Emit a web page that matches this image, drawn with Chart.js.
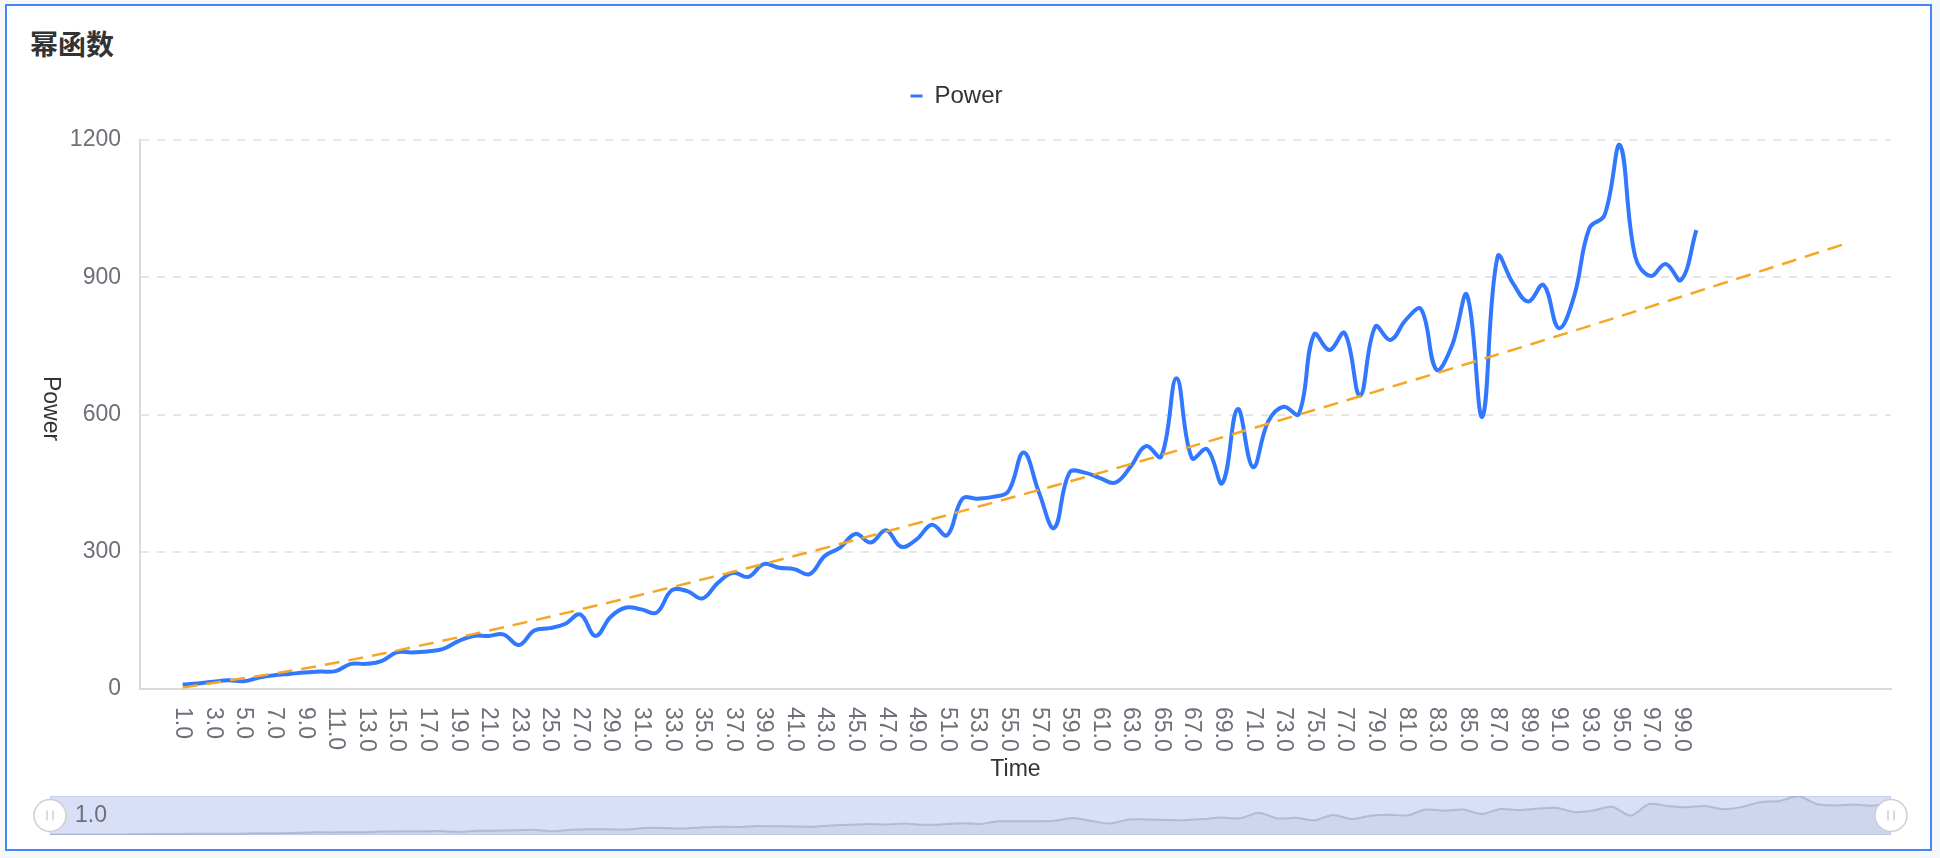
<!DOCTYPE html>
<html>
<head>
<meta charset="utf-8">
<script src="https://cdn.jsdelivr.net/npm/chart.js@4.4.1/dist/chart.umd.min.js"></script>
<style>
  html, body { margin: 0; padding: 0; }
  body { width: 1940px; height: 858px; background: #f6f7f9; position: relative; overflow: hidden; }
  #card { position: absolute; left: 5px; top: 4px; width: 1927px; height: 847px; box-sizing: border-box;
          border: 2px solid #4386f5; background: #fff; }
  #title { position: absolute; left: 30px; top: 27px; line-height: 32px; font-size: 28px; font-weight: bold;
           font-family: 'Noto Sans CJK SC', sans-serif; color: #333; }
  #main { position: absolute; left: 0; top: 0; }
  #zoom { position: absolute; left: 0; top: 790px; }
</style>
</head>
<body>
<div id="card"></div>
<div id="title">幂函数</div>
<canvas id="main" width="1940" height="790"></canvas>
<canvas id="zoom" width="1940" height="62"></canvas>
<script>
// data
const times = [1,2,3,4,5,6,7,8,9,10,11,12,13,14,15,16,17,18,19,20,
  21,22,23,24,25,26,27,28,29,30,31,32,33,34,35,36,37,38,39,40,
  41,42,43,44,45,46,47,48,49,50,51,52,53,54,55,56,57,58,59,60,
  61,62,63,64,65,66,67,68,69,70,71,72,73,74,75,76,77,78,79,80,
  81,82,83,84,85,86,87,88,89,90,91,92,93,94,95,96,97,98,99,100];
const power = [10,12,16,19,17,25,30,33,36,38,
  39,55,55,61,80,80,82,87,104,116,
  116,119,96,128,133,142,163,116,158,178,
  174,167,216,214,198,232,254,245,273,265,
  262,251,291,309,339,320,347,311,327,359,
  336,416,416,420,432,517,430,352,473,473,
  461,451,486,531,508,679,505,524,450,612,
  485,585,617,601,775,741,778,641,792,763,
  807,830,698,749,861,595,945,887,847,883,
  789,858,1007,1036,1189,945,903,929,894,1003];
const trendTimes = [1,10,20,30,40,50,60,70,80,90,100,110];
const trendValues = [3,51,120,198,282,371,463,560,660,762,868,976];
const xTicks = [1,3,5,7,9,11,13,15,17,19,21,23,25,27,29,31,33,35,37,39,
  41,43,45,47,49,51,53,55,57,59,61,63,65,67,69,71,73,75,77,79,
  81,83,85,87,89,91,93,95,97,99];
const yTicks = [0,300,600,900,1200];

const BLUE = '#3178ff';
const ORANGE = '#f5a623';
const FONT = '"Liberation Sans", Arial, sans-serif';

// extra space under the legend
const legendGap = {
  id: 'legendGap',
  beforeInit(chart) {
    const fit = chart.legend.fit;
    chart.legend.fit = function () {
      fit.call(this);
      this.height += 22;
    };
  }
};

// x labels and y name read top to bottom
const axisText = {
  id: 'axisText',
  afterDraw(chart) {
    const ctx = chart.ctx;
    const xs = chart.scales.x;
    const area = chart.chartArea;
    ctx.save();
    ctx.font = '23px ' + FONT;
    ctx.fillStyle = '#6e7079';
    ctx.textAlign = 'left';
    ctx.textBaseline = 'middle';
    xTicks.forEach(t => {
      ctx.save();
      ctx.translate(xs.getPixelForValue(t), area.bottom + 18);
      ctx.rotate(Math.PI / 2);
      ctx.fillText(t.toFixed(1), 0, 0);
      ctx.restore();
    });
    ctx.fillStyle = '#333';
    ctx.textAlign = 'center';
    ctx.translate(50, (area.top + area.bottom) / 2 - 6);
    ctx.rotate(Math.PI / 2);
    ctx.fillText('Power', 0, 0);
    ctx.restore();
  }
};

new Chart(document.getElementById('main'), {
  type: 'line',
  data: {
    datasets: [
      {
        label: 'Power',
        data: times.map((t, i) => ({x: t, y: power[i]})),
        borderColor: BLUE,
        backgroundColor: BLUE,
        borderWidth: 4,
        pointRadius: 0,
        tension: 0.4,
        fill: false,
        order: 1
      },
      {
        label: 'Trend',
        data: trendTimes.map((t, i) => ({x: t, y: trendValues[i]})),
        borderColor: ORANGE,
        borderWidth: 2.5,
        borderDash: [15, 9],
        pointRadius: 0,
        cubicInterpolationMode: 'monotone',
        fill: false,
        order: 0
      }
    ]
  },
  options: {
    responsive: false,
    animation: false,
    devicePixelRatio: 1,
    layout: {padding: {top: 74, left: 22, right: 49, bottom: 7}},
    plugins: {
      legend: {
        position: 'top',
        labels: {
          padding: 10,
          boxWidth: 12,
          boxHeight: 3,
          color: '#333',
          font: {size: 24, family: FONT},
          generateLabels: chart => [{
            text: 'Power',
            fillStyle: BLUE,
            strokeStyle: BLUE,
            lineWidth: 0,
            fontColor: '#333',
            hidden: !chart.isDatasetVisible(0),
            datasetIndex: 0
          }]
        }
      },
      tooltip: {enabled: false}
    },
    scales: {
      x: {
        type: 'linear',
        min: -1.79,
        max: 112.73,
        grid: {display: false},
        border: {display: true, color: '#dadada', width: 2},
        ticks: {display: false},
        title: {display: true, text: 'Time', color: '#333', font: {size: 23, family: FONT}, padding: 0},
        afterFit: s => { s.height = 94; }
      },
      y: {
        min: 0,
        max: 1200,
        afterBuildTicks: s => { s.ticks = yTicks.map(v => ({value: v})); },
        grid: {color: '#e6e6e6', lineWidth: 2, drawTicks: false},
        border: {display: true, color: '#dadada', width: 2, dash: [8, 8]},
        ticks: {
          color: '#6e7079',
          font: {size: 23, family: FONT},
          padding: 19,
          callback: v => String(v)
        },
        afterFit: s => { s.width = 118; }
      }
    }
  },
  plugins: [legendGap, axisText]
});

// data zoom strip under the chart
const zoomBox = {
  id: 'zoomBox',
  beforeDatasetsDraw(chart) {
    const {ctx, chartArea: a} = chart;
    ctx.save();
    ctx.fillStyle = '#d9dff6';
    ctx.fillRect(a.left, a.top, a.width, a.height);
    ctx.strokeStyle = '#c9d0ea';
    ctx.lineWidth = 1;
    ctx.strokeRect(a.left + 0.5, a.top + 0.5, a.width - 1, a.height - 1);
    ctx.restore();
  },
  afterDraw(chart) {
    const {ctx, chartArea: a} = chart;
    const xs = chart.scales.x;
    const cy = (a.top + a.bottom) / 2;
    const ends = [xs.getPixelForValue(times[0]), xs.getPixelForValue(times[times.length - 1])];
    ctx.save();
    ends.forEach(x => {
      ctx.beginPath();
      ctx.arc(x, cy, 16, 0, Math.PI * 2);
      ctx.fillStyle = '#fff';
      ctx.fill();
      ctx.strokeStyle = '#cfcfcf';
      ctx.lineWidth = 1.5;
      ctx.stroke();
      ctx.beginPath();
      ctx.moveTo(x - 3, cy - 5); ctx.lineTo(x - 3, cy + 5);
      ctx.moveTo(x + 3, cy - 5); ctx.lineTo(x + 3, cy + 5);
      ctx.strokeStyle = '#d0d0d0';
      ctx.stroke();
    });
    ctx.font = '23px ' + FONT;
    ctx.fillStyle = '#6e7079';
    ctx.textAlign = 'left';
    ctx.textBaseline = 'middle';
    ctx.fillText(times[0].toFixed(1), ends[0] + 25, cy);
    ctx.restore();
  }
};

new Chart(document.getElementById('zoom'), {
  type: 'line',
  data: {
    datasets: [{
      data: times.map((t, i) => ({x: t, y: power[i]})),
      borderColor: 'rgba(140,155,190,0.5)',
      backgroundColor: 'rgba(150,165,195,0.15)',
      borderWidth: 2,
      pointRadius: 0,
      tension: 0.3,
      fill: 'origin'
    }]
  },
  options: {
    responsive: false,
    animation: false,
    devicePixelRatio: 1,
    layout: {padding: {top: 6, bottom: 17, left: 50, right: 49}},
    plugins: {legend: {display: false}, tooltip: {enabled: false}},
    scales: {
      x: {type: 'linear', display: false, min: times[0], max: times[times.length - 1]},
      y: {display: false, min: 0, max: Math.max(...power)}
    }
  },
  plugins: [zoomBox]
});
</script>
</body>
</html>
